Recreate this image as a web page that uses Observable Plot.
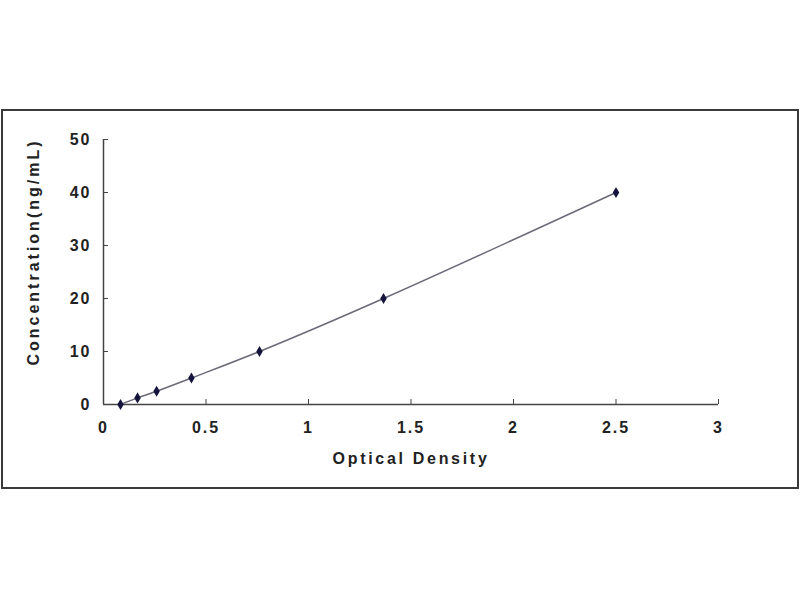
<!DOCTYPE html>
<html>
<head>
<meta charset="utf-8">
<script src="https://cdn.jsdelivr.net/npm/d3@7"></script>
<script src="https://cdn.jsdelivr.net/npm/@observablehq/plot@0.6"></script>
<style>
  html, body { margin: 0; padding: 0; background: #fff; }
  #wrap { position: relative; width: 800px; height: 600px; }
  #border { position: absolute; left: 1px; top: 109px; width: 794px; height: 376px; border: 2px solid #3a3a3a; box-sizing: content-box; pointer-events: none; }
  .ticklab text { letter-spacing: 2px; }
  .xlab text { letter-spacing: 2.7px; }
  .ylab text { letter-spacing: 3px; }
</style>
</head>
<body>
<div id="wrap"><div id="border"></div></div>
<script>
const opticalDensity = [0.083, 0.166, 0.259, 0.429, 0.761, 1.366, 2.5];
const concentration = [0, 1.25, 2.5, 5, 10, 20, 40];
const xTicks = [0, 0.5, 1, 1.5, 2, 2.5, 3];
const yTicks = [0, 10, 20, 30, 40, 50];
const xLabel = "Optical Density";
const yLabel = "Concentration(ng/mL)";

const data = opticalDensity.map((od, i) => ({od, conc: concentration[i]}));

const chart = Plot.plot({
  width: 800,
  height: 600,
  marginLeft: 103,
  marginRight: 82,
  marginTop: 139,
  marginBottom: 196,
  style: {fontFamily: "'Liberation Sans', Arial, sans-serif", fontSize: "16px", fontWeight: "bold", color: "#222", background: "transparent"},
  x: {domain: [0, 3], ticks: xTicks, tickFormat: d => String(d)},
  y: {domain: [0, 50], ticks: yTicks, tickFormat: d => String(d)},
  marks: [
    Plot.axisX({ticks: xTicks, tickSize: -5, tickPadding: 22, stroke: "#444", label: null, tickFormat: d => String(d), className: "ticklab"}),
    Plot.axisY({ticks: yTicks, tickSize: -5, tickPadding: 17, stroke: "#444", label: null, tickFormat: d => String(d), className: "ticklab"}),
    Plot.ruleY([0], {stroke: "#444", strokeWidth: 1.5}),
    Plot.ruleX([0], {stroke: "#444", strokeWidth: 1.5}),
    Plot.line(data, {x: "od", y: "conc", curve: "catmull-rom", stroke: "#6a6a7a", strokeWidth: 1.5}),
    Plot.dot(data, {x: "od", y: "conc", symbol: "diamond", r: 3.4, fill: "#14143c", stroke: "none"}),
    Plot.text([xLabel], {frameAnchor: "bottom", dy: 59, fontSize: 16, fontWeight: "bold", fill: "#222", className: "xlab"}),
    Plot.text([yLabel], {frameAnchor: "left", textAnchor: "middle", dx: -70, dy: -20, rotate: -90, fontSize: 16, fontWeight: "bold", fill: "#222", className: "ylab"})
  ]
});
document.getElementById("wrap").insertBefore(chart, document.getElementById("border"));
</script>
</body>
</html>
